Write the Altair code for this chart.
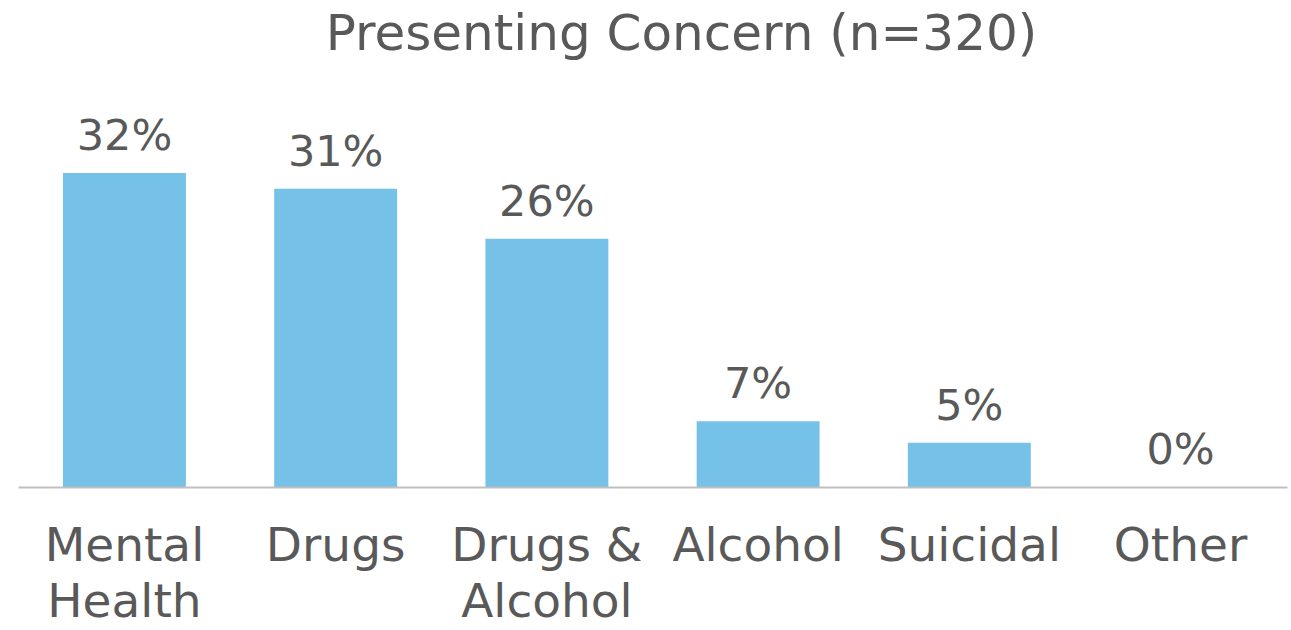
import altair as alt
import pandas as pd

categories = ["Mental Health", "Drugs", "Drugs & Alcohol", "Alcohol", "Suicidal", "Other"]
values = [32.0, 30.4, 25.3, 6.7, 4.5, 0.0]
labels = ["32%", "31%", "26%", "7%", "5%", "0%"]

df = pd.DataFrame({"cat": categories, "val": values, "lab": labels})

FONT = "DejaVu Sans"
GREY = "#595959"

x = alt.X("cat:N", sort=categories, title=None,
          scale=alt.Scale(paddingInner=0.418, paddingOuter=0.213),
          axis=alt.Axis(labelAngle=0, labelFontSize=47, labelColor=GREY, labelFont=FONT,
                        labelLineHeight=56, labelPadding=36, ticks=False, domainColor="#C0C0C0",
                        domainWidth=2, labelLimit=400, zindex=1,
                        labelExpr="datum.value == 'Mental Health' ? ['Mental', 'Health'] : datum.value == 'Drugs & Alcohol' ? ['Drugs &', 'Alcohol'] : datum.value"))
y = alt.Y("val:Q", scale=alt.Scale(domain=[0, 40]), axis=None)

bars = alt.Chart(df).mark_bar(color="#75C1E8").encode(x=x, y=y)
text = alt.Chart(df).mark_text(baseline="bottom", dy=-14, fontSize=43, color=GREY, font=FONT).encode(
    x=x, y=y, text="lab:N")

chart = (bars + text).properties(
    width=1269, height=392.5,
    title=alt.Title("Presenting Concern (n=320)", fontSize=50, font=FONT, color=GREY,
                    fontWeight="normal", dx=29, offset=35),
    autosize=alt.AutoSizeParams(type="none"),
    padding={"left": 18, "top": 94.5, "right": 4, "bottom": 143},
).configure_view(stroke=None)

chart.save("out.html", embed_options={"renderer": "svg", "actions": False})
